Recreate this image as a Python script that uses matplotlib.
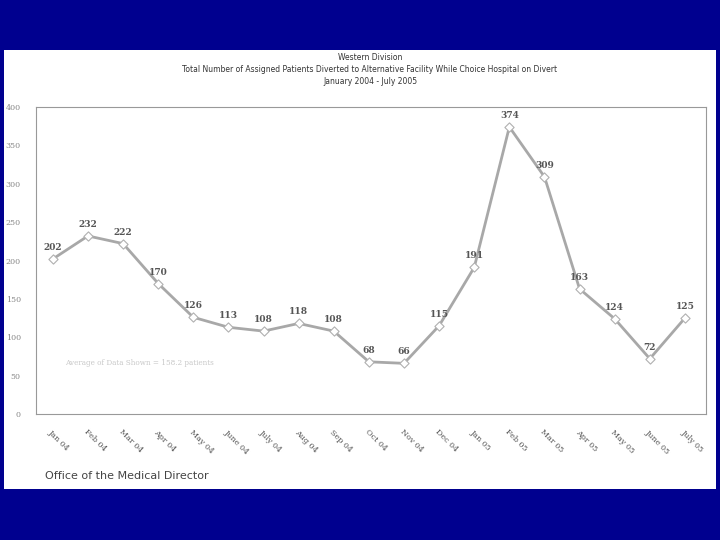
import matplotlib
matplotlib.use('Agg')
import matplotlib.pyplot as plt

months = ['Jan 04', 'Feb 04', 'Mar 04', 'Apr 04', 'May 04', 'June 04', 'July 04',
          'Aug 04', 'Sep 04', 'Oct 04', 'Nov 04', 'Dec 04', 'Jan 05', 'Feb 05',
          'Mar 05', 'Apr 05', 'May 05', 'June 05', 'July 05']
patients = [202, 232, 222, 170, 126, 113, 108, 118, 108, 68, 66, 115,
            191, 374, 309, 163, 124, 72, 125]
y_ticks = [0, 50, 100, 150, 200, 250, 300, 350, 400]

fig = plt.figure(figsize=(7.2, 5.4), dpi=100)
fig.patch.set_facecolor('#00008f')

# white "slide" area as a background axes
bg = fig.add_axes([4 / 720, 1 - 489 / 540, 712 / 720, 439 / 540], zorder=-1)
bg.set_facecolor('white')
bg.set_xticks([])
bg.set_yticks([])
for spine in bg.spines.values():
    spine.set_visible(False)

ax = fig.add_axes([36 / 720, 1 - 414 / 540, 670 / 720, 307 / 540], zorder=1)
ax.set_facecolor('white')

x = list(range(len(months)))
ax.plot(x, patients, color='#a8a8a8', lw=2, zorder=2)
ax.scatter(x, patients, marker='D', s=22, facecolor='white', edgecolor='#b0b0b0',
           lw=0.8, zorder=3)

for xi, v in zip(x, patients):
    ax.annotate(str(v), (xi, v), xytext=(0, 5), textcoords='offset points',
                ha='center', va='bottom', fontsize=6.5, family='DejaVu Serif',
                color='#555555', fontweight='bold')

ax.text(0.35, 66, 'Average of Data Shown = 158.2 patients', fontsize=5.2,
        family='DejaVu Serif', color='#c8c8c8', va='center')

ax.set_xlim(-0.48, 18.6)
ax.set_ylim(0, 400)
ax.set_yticks(y_ticks)
ax.set_yticklabels([str(t) for t in y_ticks], family='DejaVu Serif', fontsize=5.8,
                   color='#888888')
ax.set_xticks(x)
ax.set_xticklabels(months, rotation=-45, ha='left', rotation_mode='anchor',
                   family='DejaVu Serif', fontsize=5.8, color='#555555')
ax.tick_params(axis='both', length=0)
ax.tick_params(axis='y', pad=11)
ax.tick_params(axis='x', pad=10)
for spine in ax.spines.values():
    spine.set_edgecolor('#999999')
    spine.set_linewidth(0.8)

fig.text(370 / 720, 1 - 58 / 540, 'Western Division', ha='center', va='center',
         fontsize=5.5, color='#333333')
fig.text(370 / 720, 1 - 70 / 540,
         'Total Number of Assigned Patients Diverted to Alternative Facility While Choice Hospital on Divert',
         ha='center', va='center', fontsize=5.5, color='#333333')
fig.text(370 / 720, 1 - 82 / 540, 'January 2004 - July 2005', ha='center', va='center',
         fontsize=5.5, color='#333333')
fig.text(45 / 720, 1 - 476 / 540, 'Office of the Medical Director', ha='left',
         va='center', fontsize=8, color='#444444')

fig.savefig('out.png', dpi=100, facecolor=fig.get_facecolor())
